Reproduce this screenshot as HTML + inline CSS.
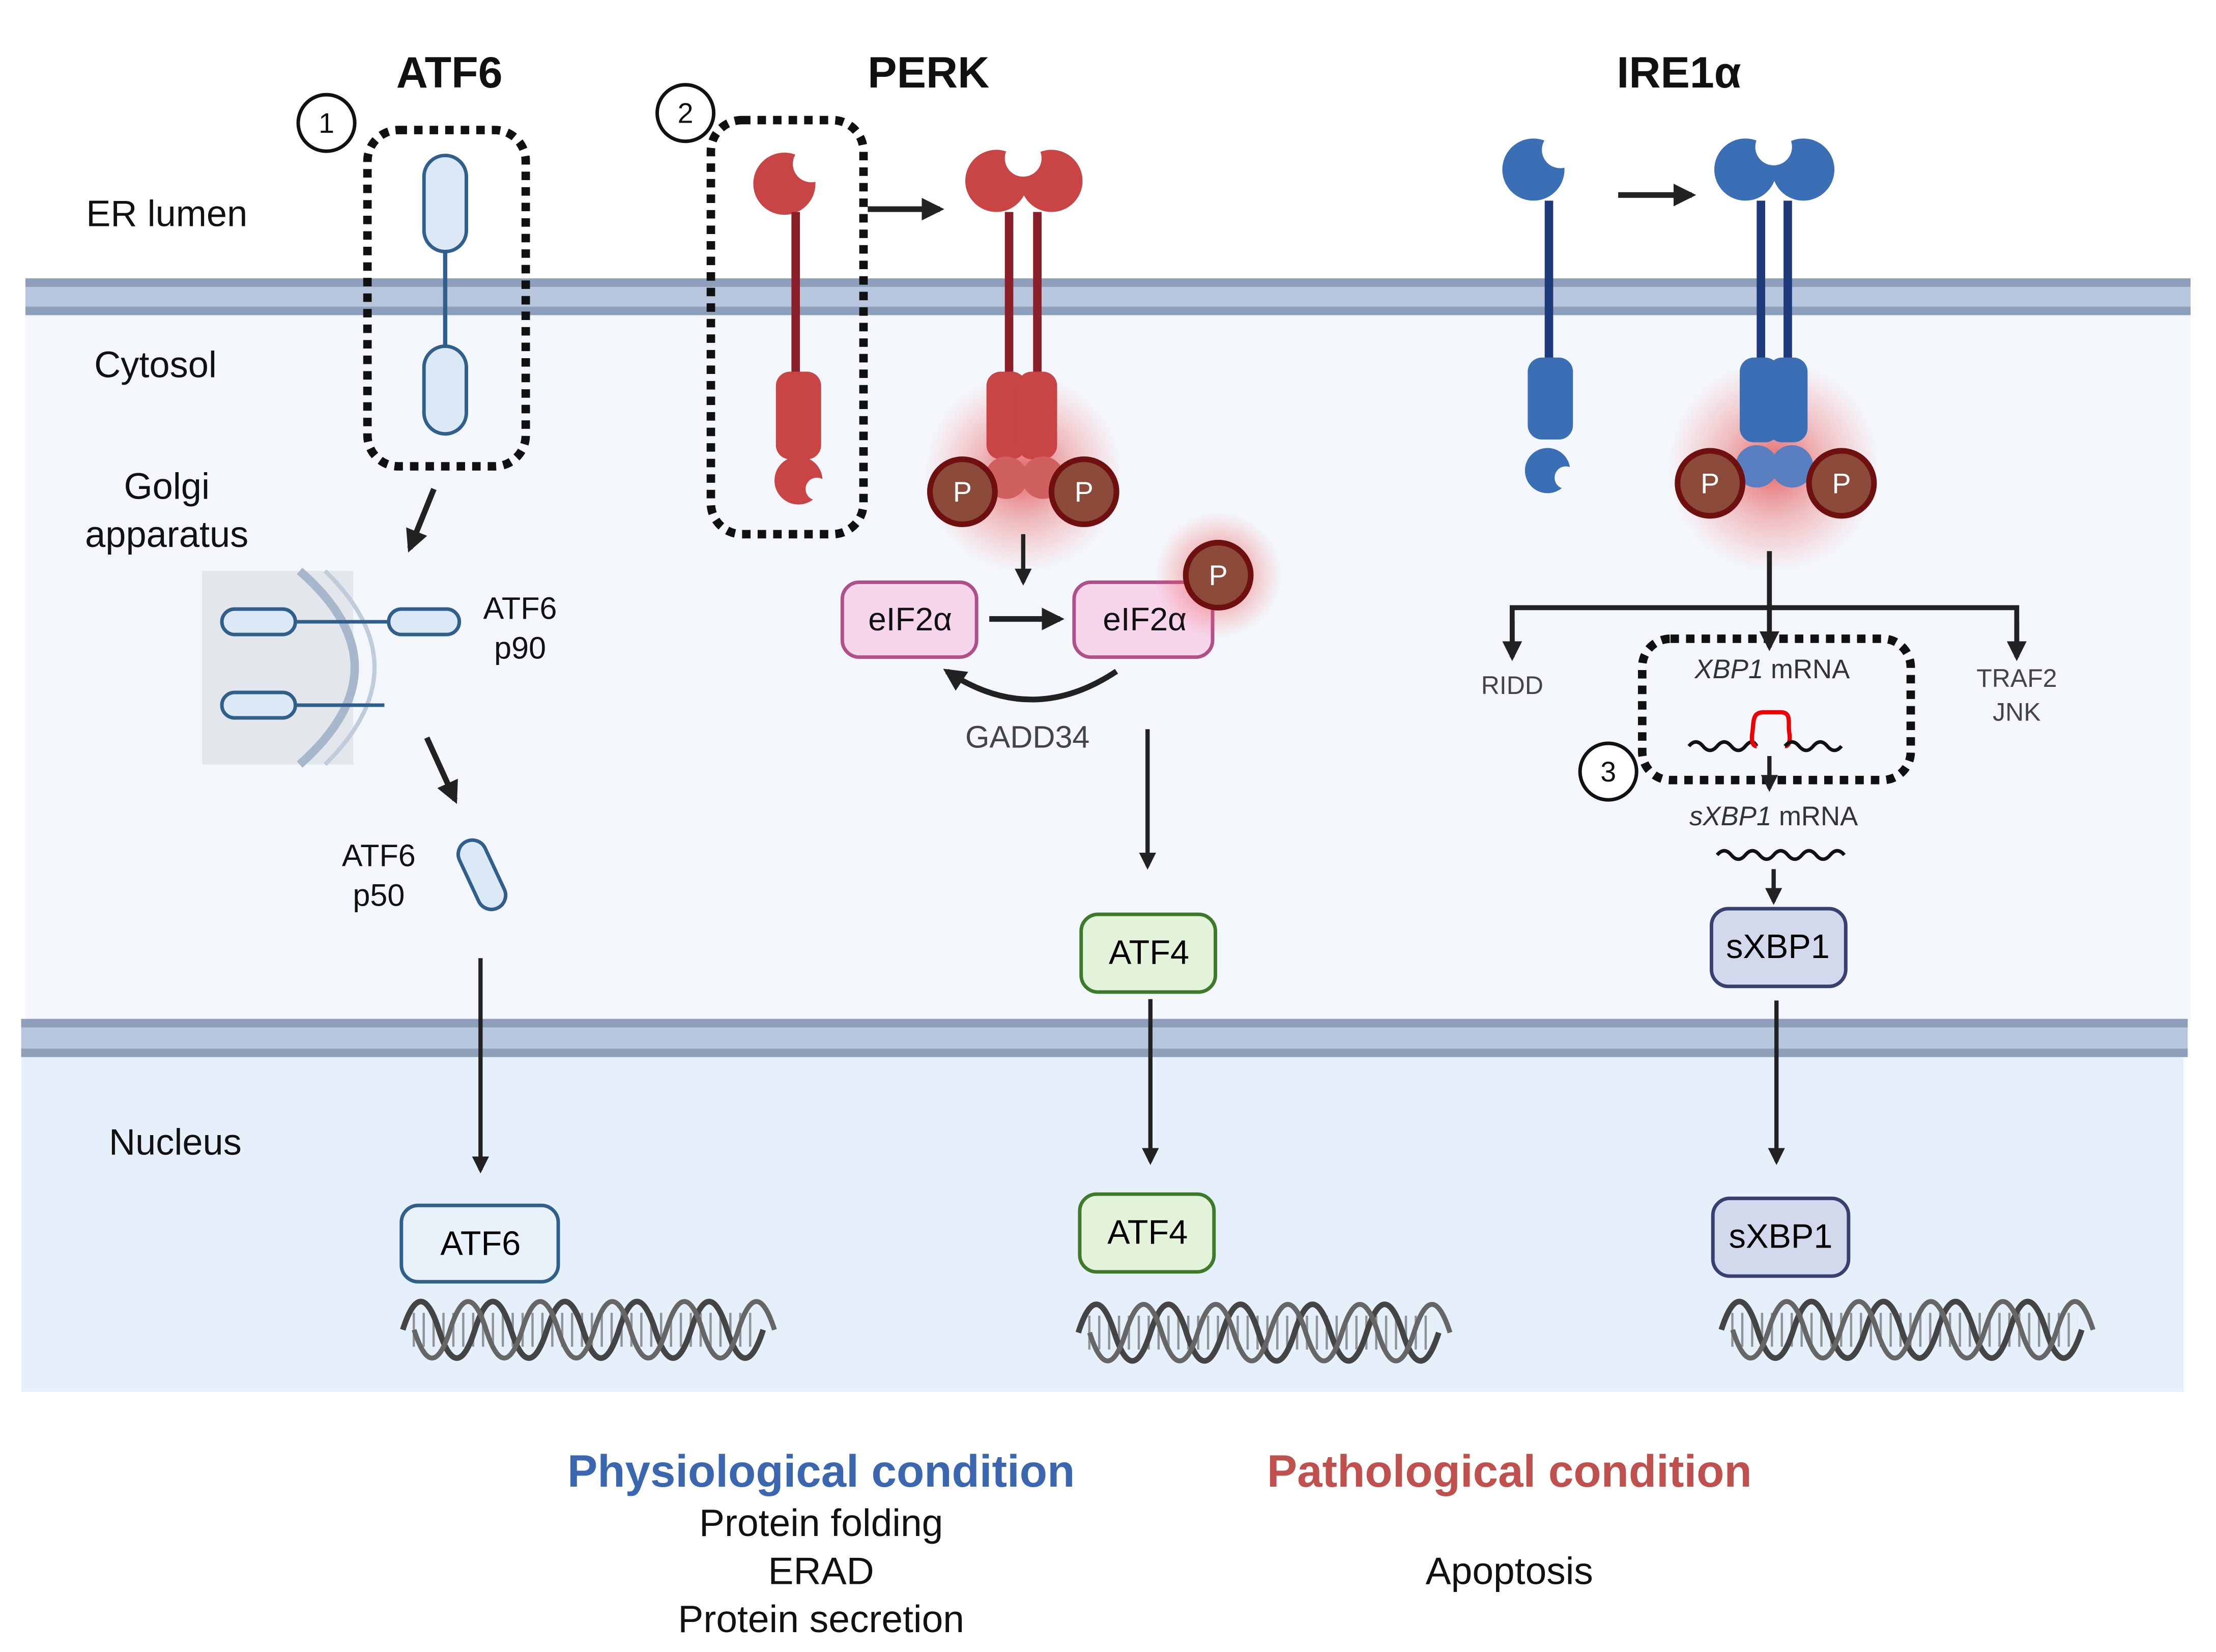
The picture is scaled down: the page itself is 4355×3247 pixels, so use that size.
<!DOCTYPE html>
<html><head><meta charset="utf-8"><style>
html,body{margin:0;padding:0;background:#fff}
svg{display:block}
text{font-family:"Liberation Sans",sans-serif}
</style></head><body>
<svg width="4355" height="3247" viewBox="0 0 1568 1169" preserveAspectRatio="none" xmlns="http://www.w3.org/2000/svg">
<defs>
<radialGradient id="glow"><stop offset="0" stop-color="#e03030" stop-opacity="0.75"/><stop offset="0.5" stop-color="#e85050" stop-opacity="0.35"/><stop offset="1" stop-color="#ff6060" stop-opacity="0"/></radialGradient>
<marker id="ar" viewBox="0 0 10 10" refX="8" refY="5" markerWidth="4" markerHeight="4" orient="auto"><path d="M0,0L10,5L0,10z" fill="#222"/></marker>
<pattern id="rung" width="7" height="10" patternUnits="userSpaceOnUse"><rect x="0" y="0" width="1.6" height="10" fill="#555"/></pattern>
<g id="dna">
<rect x="4" y="-12" width="248" height="24" fill="url(#rung)" opacity="0.6"/>
<path d="M0 0 q12.75 -40 25.5 0 t25.5 0 t25.5 0 t25.5 0 t25.5 0 t25.5 0 t25.5 0 t25.5 0 t25.5 0 t25.5 0" fill="none" stroke="#444" stroke-width="4"/>
<path d="M8 0 q12.75 40 25.5 0 t25.5 0 t25.5 0 t25.5 0 t25.5 0 t25.5 0 t25.5 0 t25.5 0 t25.5 0 t25.5 0" fill="none" stroke="#666" stroke-width="3.5"/>
</g>
</defs>
<rect x="18" y="222" width="1532" height="500" fill="#f3f7fc"/>
<rect x="15" y="748" width="1530" height="237" fill="#e6f0fa"/>
<rect x="18" y="197" width="1532" height="26" fill="#b7c6dc"/>
<rect x="18" y="197" width="1532" height="6" fill="#8d9fbb"/>
<rect x="18" y="217" width="1532" height="6" fill="#8d9fbb"/>
<rect x="15" y="721" width="1533" height="27" fill="#b7c6dc"/>
<rect x="15" y="721" width="1533" height="6" fill="#8d9fbb"/>
<rect x="15" y="742" width="1533" height="6" fill="#8d9fbb"/>

<g font-weight="bold" font-size="31" text-anchor="middle" fill="#111">
<text x="318" y="62">ATF6</text><text x="657" y="62">PERK</text><text x="1188" y="62">IRE1α</text></g>
<g font-size="26" text-anchor="middle" fill="#111">
<text x="118" y="160">ER lumen</text><text x="110" y="267">Cytosol</text>
<text x="118" y="353">Golgi</text><text x="118" y="387">apparatus</text>
<text x="124" y="817">Nucleus</text></g>

<g fill="#fff" stroke="#111" stroke-width="2.5"><circle cx="231" cy="87" r="20"/><circle cx="485" cy="80" r="20"/><circle cx="1138" cy="546" r="20"/></g>
<g font-size="20" text-anchor="middle" fill="#111"><text x="231" y="94">1</text><text x="485" y="87">2</text><text x="1138" y="553">3</text></g>

<g fill="none" stroke="#111" stroke-width="6" stroke-dasharray="6 5">
<rect x="260" y="92" width="112" height="238" rx="22"/>
<rect x="503" y="85" width="108" height="293" rx="22"/>
<rect x="1162" y="452" width="190" height="100" rx="20"/></g>

<g fill="#dbe9f7" stroke="#2f5f8a" stroke-width="2.5">
<rect x="300" y="110" width="30" height="68" rx="15"/>
<rect x="300" y="245" width="30" height="62" rx="15"/></g>
<line x1="315" y1="178" x2="315" y2="245" stroke="#2f5f8a" stroke-width="3"/>
<line x1="307" y1="346" x2="290" y2="388" stroke="#222" stroke-width="4" marker-end="url(#ar)"/>
<rect x="143" y="404" width="107" height="137" fill="#e3e6ea"/>
<path d="M212 404 Q290 472 212 541" fill="none" stroke="#a8b8cc" stroke-width="6"/>
<path d="M230 404 Q300 472 230 541" fill="none" stroke="#c0ccda" stroke-width="3"/>
<g fill="#dbe9f7" stroke="#2f5f8a" stroke-width="2.5">
<rect x="157" y="431" width="52" height="18" rx="9"/><rect x="275" y="431" width="50" height="18" rx="9"/>
<rect x="157" y="490" width="52" height="18" rx="9"/></g>
<line x1="209" y1="440" x2="275" y2="440" stroke="#2f5f8a" stroke-width="2.5"/>
<line x1="209" y1="499" x2="272" y2="499" stroke="#2f5f8a" stroke-width="2.5"/>
<g font-size="22" text-anchor="middle" fill="#111"><text x="368" y="438">ATF6</text><text x="368" y="466">p90</text>
<text x="268" y="613">ATF6</text><text x="268" y="641">p50</text></g>
<line x1="302" y1="522" x2="322" y2="566" stroke="#222" stroke-width="4" marker-end="url(#ar)"/>
<rect x="331" y="593" width="20" height="52" rx="10" transform="rotate(-25 341 619)" fill="#dbe9f7" stroke="#2f5f8a" stroke-width="2.5"/>
<line x1="340" y1="678" x2="340" y2="828" stroke="#222" stroke-width="3" marker-end="url(#ar)"/>
<rect x="284" y="853" width="111" height="54" rx="12" fill="#e9f2fb" stroke="#2f5f8a" stroke-width="2.5"/>
<text x="340" y="888" font-size="24" text-anchor="middle">ATF6</text>
<use href="#dna" x="285" y="941"/>

<g fill="#c94444">
<circle cx="555" cy="130" r="22"/>
<rect x="560" y="150" width="6" height="115" fill="#8a1f2a"/>
<rect x="549" y="263" width="32" height="62" rx="10"/>
<circle cx="565" cy="340" r="17"/></g>
<circle cx="574" cy="116" r="13" fill="#fff"/>
<circle cx="578" cy="346" r="8" fill="#f3f7fc"/>
<line x1="614" y1="148" x2="665" y2="148" stroke="#222" stroke-width="4" marker-end="url(#ar)"/>
<circle cx="724" cy="335" r="70" fill="url(#glow)"/>
<g fill="#c94444">
<circle cx="705" cy="128" r="22"/><circle cx="744" cy="128" r="22"/>
<rect x="711" y="150" width="6" height="115" fill="#8a1f2a"/><rect x="731" y="150" width="6" height="115" fill="#8a1f2a"/>
<rect x="698" y="263" width="28" height="62" rx="10"/><rect x="720" y="263" width="28" height="62" rx="10"/>
<circle cx="712" cy="338" r="15" fill="#d06060"/><circle cx="738" cy="338" r="15" fill="#d06060"/></g>
<circle cx="724" cy="112" r="13" fill="#fff"/>
<g fill="#8b4a3a" stroke="#6e1010" stroke-width="4"><circle cx="681" cy="348" r="23"/><circle cx="767" cy="348" r="23"/></g>
<g font-size="20" fill="#fff" text-anchor="middle"><text x="681" y="355">P</text><text x="767" y="355">P</text></g>
<line x1="724" y1="378" x2="724" y2="412" stroke="#222" stroke-width="3" marker-end="url(#ar)"/>
<g fill="#f7d5ea" stroke="#b0508a" stroke-width="2.5"><rect x="596" y="412" width="95" height="53" rx="12"/><rect x="760" y="412" width="98" height="53" rx="12"/></g>
<g font-size="23" text-anchor="middle" fill="#111"><text x="644" y="446">eIF2α</text><text x="810" y="446">eIF2α</text></g>
<line x1="700" y1="438" x2="750" y2="438" stroke="#222" stroke-width="4" marker-end="url(#ar)"/>
<circle cx="862" cy="407" r="45" fill="url(#glow)"/>
<circle cx="862" cy="407" r="23" fill="#8b4a3a" stroke="#6e1010" stroke-width="4"/>
<text x="862" y="414" font-size="20" fill="#fff" text-anchor="middle">P</text>
<path d="M790 475 Q730 515 670 475" fill="none" stroke="#222" stroke-width="4" marker-end="url(#ar)"/>
<text x="727" y="529" font-size="22" text-anchor="middle" fill="#444">GADD34</text>
<line x1="812" y1="516" x2="812" y2="613" stroke="#222" stroke-width="3" marker-end="url(#ar)"/>
<g fill="#e3f3d9" stroke="#3d7a2a" stroke-width="2.5"><rect x="765" y="647" width="95" height="55" rx="12"/><rect x="764" y="845" width="95" height="55" rx="12"/></g>
<g font-size="24" text-anchor="middle"><text x="813" y="682">ATF4</text><text x="812" y="880">ATF4</text></g>
<line x1="814" y1="707" x2="814" y2="822" stroke="#222" stroke-width="3" marker-end="url(#ar)"/>
<use href="#dna" x="763" y="943"/>

<g fill="#3b6fb5">
<circle cx="1085" cy="120" r="22"/>
<rect x="1093" y="142" width="6" height="115" fill="#1f3a7a"/>
<rect x="1081" y="253" width="32" height="58" rx="10"/>
<circle cx="1095" cy="333" r="16"/></g>
<circle cx="1104" cy="106" r="13" fill="#fff"/>
<circle cx="1108" cy="338" r="8" fill="#f3f7fc"/>
<line x1="1145" y1="138" x2="1197" y2="138" stroke="#222" stroke-width="4" marker-end="url(#ar)"/>
<circle cx="1255" cy="330" r="75" fill="url(#glow)"/>
<g fill="#3b6fb5">
<circle cx="1235" cy="120" r="22"/><circle cx="1276" cy="120" r="22"/>
<rect x="1243" y="142" width="6" height="115" fill="#1f3a7a"/><rect x="1262" y="142" width="6" height="115" fill="#1f3a7a"/>
<rect x="1231" y="253" width="28" height="60" rx="10"/><rect x="1251" y="253" width="28" height="60" rx="10"/>
<circle cx="1243" cy="330" r="15" fill="#5a7fc0"/><circle cx="1268" cy="330" r="15" fill="#5a7fc0"/></g>
<circle cx="1255" cy="104" r="13" fill="#fff"/>
<g fill="#8b4a3a" stroke="#6e1010" stroke-width="4"><circle cx="1210" cy="342" r="23"/><circle cx="1303" cy="342" r="23"/></g>
<g font-size="20" fill="#fff" text-anchor="middle"><text x="1210" y="349">P</text><text x="1303" y="349">P</text></g>
<line x1="1252" y1="390" x2="1252" y2="458" stroke="#222" stroke-width="3.5" marker-end="url(#ar)"/>
<path d="M1070 463 V430 H1427 V463" fill="none" stroke="#222" stroke-width="3.5"/>
<line x1="1070" y1="440" x2="1070" y2="465" stroke="#222" stroke-width="3.5" marker-end="url(#ar)"/>
<line x1="1427" y1="440" x2="1427" y2="465" stroke="#222" stroke-width="3.5" marker-end="url(#ar)"/>
<g font-size="18" text-anchor="middle" fill="#444"><text x="1070" y="491">RIDD</text><text x="1427" y="486">TRAF2</text><text x="1427" y="510">JNK</text></g>
<text x="1254" y="480" font-size="19" text-anchor="middle" fill="#333"><tspan font-style="italic">XBP1</tspan> mRNA</text>
<path d="M1195 528 q5 -6 10 0 t10 0 t10 0 t10 0 t8 0" fill="none" stroke="#111" stroke-width="2.5"/>
<path d="M1243 528 c-3 0 -4 -4 -3 -10 c1 -8 0 -14 8 -14 h12 c8 0 5 8 6 14 c1 6 0 10 -3 10" fill="none" stroke="#e00" stroke-width="3"/>
<path d="M1263 528 q5 -6 10 0 t10 0 t10 0 t10 0" fill="none" stroke="#111" stroke-width="2.5"/>
<line x1="1252" y1="535" x2="1252" y2="558" stroke="#222" stroke-width="3" marker-end="url(#ar)"/>
<text x="1255" y="584" font-size="19" text-anchor="middle" fill="#333"><tspan font-style="italic">sXBP1</tspan> mRNA</text>
<path d="M1215 605 q5 -6 10 0 t10 0 t10 0 t10 0 t10 0 t10 0 t10 0 t10 0 t10 0" fill="none" stroke="#111" stroke-width="2.5"/>
<line x1="1255" y1="615" x2="1255" y2="638" stroke="#222" stroke-width="3" marker-end="url(#ar)"/>
<g fill="#d3d9ec" stroke="#38406e" stroke-width="2.5"><rect x="1211" y="643" width="95" height="55" rx="12"/><rect x="1212" y="848" width="96" height="55" rx="12"/></g>
<g font-size="24" text-anchor="middle"><text x="1258" y="678">sXBP1</text><text x="1260" y="883">sXBP1</text></g>
<line x1="1257" y1="708" x2="1257" y2="822" stroke="#222" stroke-width="3" marker-end="url(#ar)"/>
<use href="#dna" x="1218" y="941"/>

<g text-anchor="middle">
<text x="581" y="1052" font-size="32" font-weight="bold" fill="#3a67b0">Physiological condition</text>
<text x="581" y="1087" font-size="27" fill="#111">Protein folding</text>
<text x="581" y="1121" font-size="27" fill="#111">ERAD</text>
<text x="581" y="1155" font-size="27" fill="#111">Protein secretion</text>
<text x="1068" y="1052" font-size="32" font-weight="bold" fill="#c0504d">Pathological condition</text>
<text x="1068" y="1121" font-size="27" fill="#111">Apoptosis</text>
</g>
</svg>
</body></html>
